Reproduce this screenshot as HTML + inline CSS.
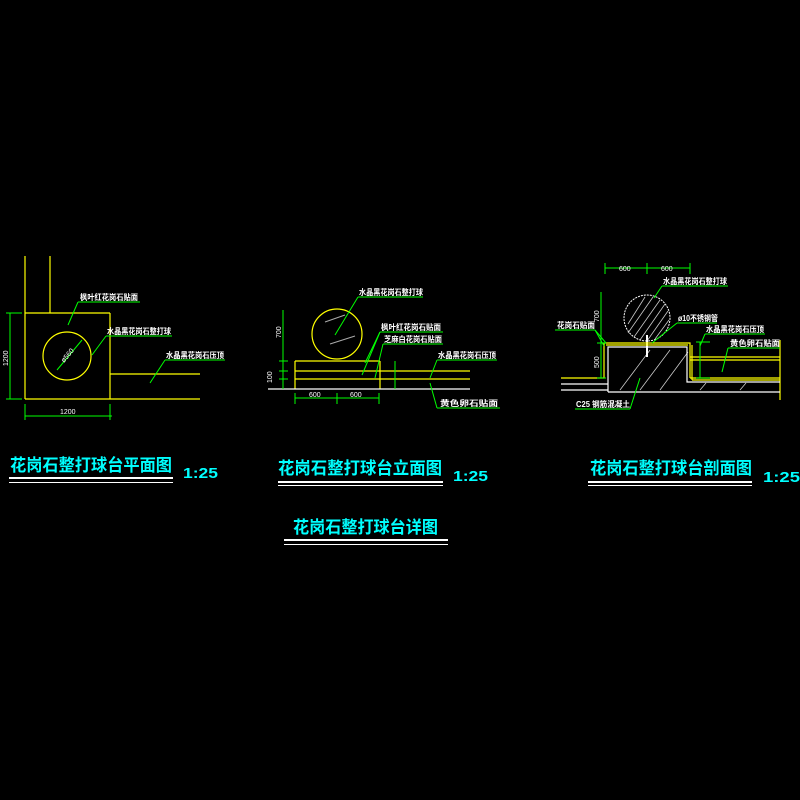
<!DOCTYPE html>
<html><head><meta charset="utf-8"><style>
html,body{margin:0;padding:0;background:#000;}
svg{display:block;}
.t{font-family:"Liberation Sans","WenQuanYi Zen Hei","Noto Sans CJK SC",sans-serif;}
.lb{fill:#fff;font-size:8px;font-weight:bold;}
.ti{fill:#00ffff;font-size:17px;font-weight:bold;}
.sc{fill:#00ffff;font-size:15px;font-weight:bold;}
.dm{fill:#fff;font-size:7px;}
</style></head><body>
<svg width="800" height="800" viewBox="0 0 800 800" xmlns="http://www.w3.org/2000/svg">
<rect width="800" height="800" fill="#000"/>
<g class="t">
<!-- PLAN -->
<g stroke="#ffff00" fill="none" stroke-width="1.2">
<line x1="25" y1="256" x2="25" y2="399"/>
<line x1="50" y1="256" x2="50" y2="313"/>
<line x1="25" y1="313" x2="110" y2="313"/>
<line x1="110" y1="313" x2="110" y2="399"/>
<line x1="25" y1="399" x2="200" y2="399"/>
<line x1="110" y1="374" x2="200" y2="374"/>
<circle cx="67" cy="356" r="24"/>
</g>
<g stroke="#00ff00" stroke-width="1" fill="none">
<line x1="10" y1="313" x2="10" y2="399"/><line x1="6" y1="313" x2="22" y2="313"/><line x1="6" y1="399" x2="22" y2="399"/>
<line x1="25" y1="416" x2="112" y2="416"/><line x1="25" y1="404" x2="25" y2="420"/><line x1="110" y1="404" x2="110" y2="420"/>
<line x1="57" y1="370" x2="82" y2="340"/>
<line x1="78" y1="302" x2="140" y2="302"/><line x1="78" y1="302" x2="68" y2="325"/>
<line x1="106" y1="336" x2="172" y2="336"/><line x1="106" y1="336" x2="92" y2="355"/>
<line x1="165" y1="360" x2="225" y2="360"/><line x1="165" y1="360" x2="150" y2="383"/>
</g>
<text class="dm" x="60" y="414">1200</text>
<text class="dm" transform="translate(8,366) rotate(-90)">1200</text>
<text class="dm" transform="translate(64,363) rotate(-50)">ø560</text>
<text class="lb" x="80" y="300" textLength="58" lengthAdjust="spacingAndGlyphs">枫叶红花岗石贴面</text>
<text class="lb" x="107" y="334" textLength="64" lengthAdjust="spacingAndGlyphs">水晶黑花岗石整打球</text>
<text class="lb" x="166" y="358" textLength="58" lengthAdjust="spacingAndGlyphs">水晶黑花岗石压顶</text>

<!-- ELEVATION -->
<g stroke="#ffff00" fill="none" stroke-width="1.2">
<circle cx="337" cy="334" r="25"/>
<line x1="295" y1="361" x2="380" y2="361"/>
<line x1="295" y1="371" x2="470" y2="371"/>
<line x1="295" y1="379" x2="470" y2="379"/>
<line x1="295" y1="361" x2="295" y2="389"/>
<line x1="380" y1="361" x2="380" y2="389"/>
</g>
<line x1="268" y1="389" x2="470" y2="389" stroke="#fff" stroke-width="1.2"/>
<g stroke="#aaa" stroke-width="1"><line x1="325" y1="322" x2="345" y2="315"/><line x1="330" y1="344" x2="355" y2="336"/></g>
<g stroke="#00ff00" stroke-width="1" fill="none">
<line x1="283" y1="310" x2="283" y2="389"/><line x1="279" y1="361" x2="288" y2="361"/><line x1="279" y1="371" x2="288" y2="371"/><line x1="279" y1="379" x2="288" y2="379"/>
<line x1="295" y1="398" x2="379" y2="398"/><line x1="295" y1="393" x2="295" y2="404"/><line x1="337" y1="393" x2="337" y2="404"/><line x1="379" y1="393" x2="379" y2="404"/>
<line x1="395" y1="361" x2="395" y2="389"/>
<line x1="358" y1="297" x2="423" y2="297"/><line x1="358" y1="297" x2="335" y2="335"/>
<line x1="380" y1="332" x2="443" y2="332"/><line x1="380" y1="332" x2="365" y2="363"/><line x1="380" y1="332" x2="362" y2="375"/>
<line x1="383" y1="344" x2="443" y2="344"/><line x1="383" y1="344" x2="375" y2="378"/>
<line x1="437" y1="360" x2="497" y2="360"/><line x1="437" y1="360" x2="430" y2="378"/>
<line x1="437" y1="408" x2="500" y2="408"/><line x1="437" y1="408" x2="430" y2="383"/>
</g>
<text class="dm" x="309" y="397">600</text><text class="dm" x="350" y="397">600</text>
<text class="dm" transform="translate(281,338) rotate(-90)">700</text>
<text class="dm" transform="translate(272,383) rotate(-90)">100</text>
<text class="lb" x="359" y="295" textLength="64" lengthAdjust="spacingAndGlyphs">水晶黑花岗石整打球</text>
<text class="lb" x="381" y="330" textLength="60" lengthAdjust="spacingAndGlyphs">枫叶红花岗石贴面</text>
<text class="lb" x="384" y="342" textLength="58" lengthAdjust="spacingAndGlyphs">芝麻白花岗石贴面</text>
<text class="lb" x="438" y="358" textLength="58" lengthAdjust="spacingAndGlyphs">水晶黑花岗石压顶</text>
<text class="lb" x="440" y="406" textLength="58" lengthAdjust="spacingAndGlyphs">黄色卵石贴面</text>

<!-- SECTION -->
<circle cx="647" cy="318" r="23" fill="none" stroke="#fff" stroke-dasharray="2,1"/>
<g stroke="#ccc" stroke-width="0.8">
<line x1="628" y1="324" x2="645" y2="297"/><line x1="628" y1="333" x2="653" y2="297"/><line x1="634" y1="337" x2="660" y2="300"/><line x1="640" y1="340" x2="665" y2="304"/><line x1="647" y1="341" x2="668" y2="311"/><line x1="655" y1="339" x2="669" y2="320"/>
<line x1="620" y1="390" x2="650" y2="350"/><line x1="640" y1="390" x2="670" y2="350"/><line x1="660" y1="390" x2="688" y2="352"/><line x1="700" y1="390" x2="706" y2="383"/><line x1="740" y1="390" x2="746" y2="383"/>
</g>
<line x1="647" y1="335" x2="647" y2="357" stroke="#fff" stroke-width="2"/>
<g stroke="#ffff00" fill="none" stroke-width="1.2">
<polyline points="561,378 604,378 604,343 690,343 690,378"/>
<line x1="606" y1="345" x2="688" y2="345"/>
<line x1="692" y1="345" x2="692" y2="380"/>
<line x1="690" y1="357" x2="780" y2="357"/><line x1="690" y1="360" x2="780" y2="360"/>
<line x1="690" y1="378" x2="780" y2="378"/><line x1="692" y1="380" x2="780" y2="380"/>
<line x1="780" y1="340" x2="780" y2="400"/>
</g>
<g stroke="#fff" fill="none" stroke-width="1.2">
<polyline points="608,392 608,347 687,347 687,382 780,382"/>
<line x1="608" y1="392" x2="780" y2="392"/>
<line x1="561" y1="384" x2="608" y2="384"/><line x1="561" y1="390" x2="608" y2="390"/>
</g>
<g stroke="#00ff00" stroke-width="1" fill="none">
<line x1="605" y1="268" x2="690" y2="268"/><line x1="605" y1="263" x2="605" y2="274"/><line x1="647" y1="263" x2="647" y2="274"/><line x1="690" y1="263" x2="690" y2="274"/>
<line x1="601" y1="292" x2="601" y2="378"/><line x1="597" y1="343" x2="606" y2="343"/><line x1="597" y1="378" x2="606" y2="378"/>
<line x1="700" y1="342" x2="700" y2="378"/><line x1="696" y1="342" x2="710" y2="342"/><line x1="696" y1="378" x2="710" y2="378"/>
<line x1="662" y1="286" x2="728" y2="286"/><line x1="662" y1="286" x2="654" y2="298"/>
<line x1="677" y1="323" x2="717" y2="323"/><line x1="677" y1="323" x2="652" y2="343"/>
<line x1="555" y1="330" x2="595" y2="330"/><line x1="595" y1="330" x2="604" y2="346"/><line x1="595" y1="330" x2="606" y2="343"/>
<line x1="705" y1="334" x2="765" y2="334"/><line x1="705" y1="334" x2="700" y2="346"/>
<line x1="728" y1="348" x2="780" y2="348"/><line x1="728" y1="348" x2="722" y2="372"/>
<line x1="575" y1="409" x2="630" y2="409"/><line x1="630" y1="409" x2="640" y2="378"/>
</g>
<text class="dm" x="619" y="271">600</text><text class="dm" x="661" y="271">600</text>
<text class="dm" transform="translate(599,322) rotate(-90)">700</text>
<text class="dm" transform="translate(599,368) rotate(-90)">500</text>
<text class="lb" x="663" y="284" textLength="64" lengthAdjust="spacingAndGlyphs">水晶黑花岗石整打球</text>
<text class="lb" x="678" y="321" textLength="40" lengthAdjust="spacingAndGlyphs">ø10不锈钢管</text>
<text class="lb" x="557" y="328" textLength="38" lengthAdjust="spacingAndGlyphs">花岗石贴面</text>
<text class="lb" x="706" y="332" textLength="58" lengthAdjust="spacingAndGlyphs">水晶黑花岗石压顶</text>
<text class="lb" x="730" y="346" textLength="50" lengthAdjust="spacingAndGlyphs">黄色卵石贴面</text>
<text class="lb" x="576" y="407" textLength="54" lengthAdjust="spacingAndGlyphs">C25  钢筋混凝土</text>

<!-- TITLES -->
<text class="ti" x="10" y="471" textLength="162" lengthAdjust="spacingAndGlyphs">花岗石整打球台平面图</text>
<rect x="9" y="477" width="164" height="2" fill="#fff"/><rect x="9" y="482" width="164" height="1" fill="#fff"/>
<text class="sc" x="183" y="478" textLength="35" lengthAdjust="spacingAndGlyphs">1:25</text>
<text class="ti" x="278" y="474" textLength="164" lengthAdjust="spacingAndGlyphs">花岗石整打球台立面图</text>
<rect x="278" y="481" width="165" height="2" fill="#fff"/><rect x="278" y="485" width="165" height="1" fill="#fff"/>
<text class="sc" x="453" y="481" textLength="35" lengthAdjust="spacingAndGlyphs">1:25</text>
<text class="ti" x="590" y="474" textLength="162" lengthAdjust="spacingAndGlyphs">花岗石整打球台剖面图</text>
<rect x="588" y="481" width="164" height="2" fill="#fff"/><rect x="588" y="485" width="164" height="1" fill="#fff"/>
<text class="sc" x="763" y="482" textLength="37" lengthAdjust="spacingAndGlyphs">1:25</text>
<text class="ti" x="293" y="533" textLength="145" lengthAdjust="spacingAndGlyphs">花岗石整打球台详图</text>
<rect x="284" y="539" width="164" height="2" fill="#fff"/><rect x="284" y="544" width="164" height="1" fill="#fff"/>
</g>
</svg>
</body></html>
